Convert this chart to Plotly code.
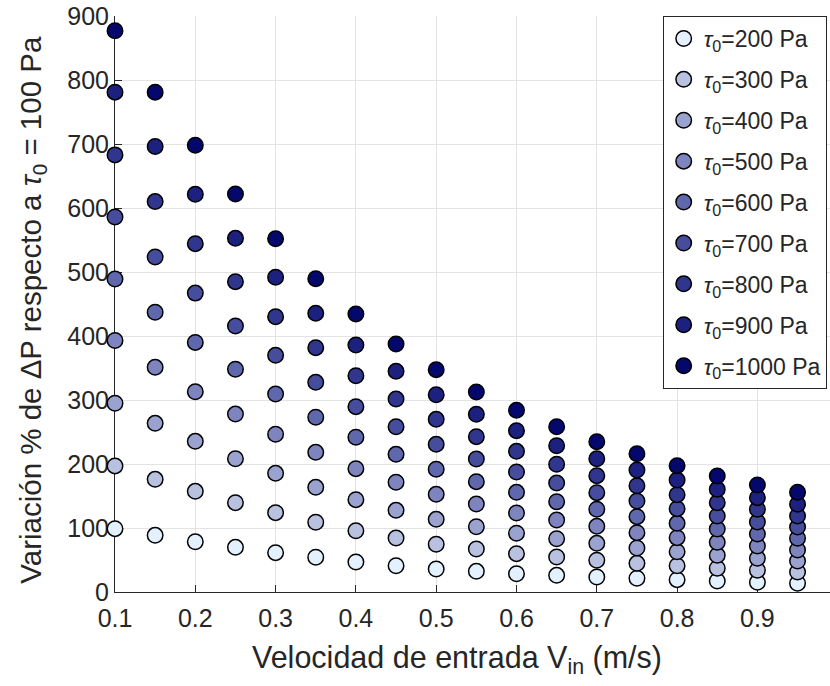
import plotly.graph_objects as go

# Inlet velocity (m/s)
velocidad = [0.10, 0.15, 0.20, 0.25, 0.30, 0.35, 0.40, 0.45, 0.50, 0.55,
             0.60, 0.65, 0.70, 0.75, 0.80, 0.85, 0.90, 0.95, 1.00]

# Yield stress levels (Pa)
tau0 = [200, 300, 400, 500, 600, 700, 800, 900, 1000]

# Percent change of pressure drop relative to tau0 = 100 Pa
var_200 = [99, 88.5, 78.6, 69.8, 61.5, 54.2, 46.9, 41.1, 35.9, 32.3,
           28.6, 26.0, 23.4, 21.4, 19.3, 17.2, 15.1, 13.6, 12.5]
var_300 = [197, 176, 157.3, 139.6, 124, 108.9, 95.8, 84.4, 74.5, 67.2,
           59.9, 54.7, 49.5, 44.8, 41.1, 37.0, 33.9, 31.3, 29]
var_400 = [295, 263.5, 235.4, 208.3, 185.4, 163.5, 144.3, 127.6, 113.5, 102,
           91.7, 83.3, 76, 68.8, 63, 57.3, 52.6, 48.4, 45.5]
var_500 = [393, 351, 313, 278, 246.4, 218.2, 192.7, 171.4, 152.6, 137.5,
           123.4, 112.5, 102.6, 92.7, 84.9, 77.6, 71.9, 65.6, 62]
var_600 = [489, 437, 390, 348, 309.4, 273, 241.7, 215.1, 191.7, 172.4,
           155.7, 141.1, 129.2, 117.7, 107.3, 98.4, 90.6, 83.9, 79]
var_700 = [586, 523.4, 467, 415.6, 369.8, 327.6, 289.6, 258.3, 230.7, 207.8,
           187.5, 170.3, 155.2, 142.2, 130.2, 118.8, 109.4, 101.6, 95.5]
var_800 = [683, 610, 544.3, 484.9, 430, 381.8, 338, 301.6, 269.8, 242.7,
           219.8, 199.5, 181.8, 166.1, 152.1, 139.6, 129.2, 118.8, 112]
var_900 = [781, 696, 621.4, 552.6, 491.7, 435.4, 386, 344.8, 308.3, 277.6,
           252.1, 228.6, 208.3, 190.6, 175, 160.4, 147.4, 137, 129]
var_1000 = [877, 781, 698, 621.9, 552, 489.6, 434.4, 387.5, 347.4, 312.5,
            283.9, 258.3, 234.9, 216.1, 197.4, 181.3, 167.2, 155.8, 146]

series = [var_200, var_300, var_400, var_500, var_600,
          var_700, var_800, var_900, var_1000]

colores = ["#E3F0FE", "#B8C1E0", "#9AA2CF", "#7D84BE", "#6068AD",
           "#464D9D", "#30368E", "#1C217F", "#04076B"]

x_ticks = [0.1, 0.2, 0.3, 0.4, 0.5, 0.6, 0.7, 0.8, 0.9]
y_ticks = [0, 100, 200, 300, 400, 500, 600, 700, 800, 900]

FONT = "Liberation Sans, Arial, sans-serif"
TXT = "#262626"

fig = go.Figure()
for tau, vals, col in zip(tau0, series, colores):
    marker = dict(size=15.5, color=col, line=dict(color="black", width=1.5))
    # points inside the visible velocity range
    fig.add_trace(go.Scatter(
        x=velocidad[:-1], y=vals[:-1], mode="markers", marker=marker,
        name=f"<i>τ</i><sub>0</sub>=%d Pa" % tau, cliponaxis=False,
        legendgroup=str(tau)))
    # last column sits at the right border of the axes
    fig.add_trace(go.Scatter(
        x=velocidad[-1:], y=vals[-1:], mode="markers", marker=marker,
        showlegend=False, cliponaxis=True, legendgroup=str(tau)))

axis_common = dict(
    showline=True, linecolor=TXT, linewidth=1, mirror=False,
    showgrid=True, gridcolor="#E3E3E3", gridwidth=1,
    ticks="inside", ticklen=7, tickcolor=TXT, tickwidth=1,
    tickfont=dict(family=FONT, size=25, color=TXT),
    zeroline=False, layer="below traces",
)

fig.update_layout(
    width=830, height=686,
    margin=dict(l=115, r=0, t=16, b=94, autoexpand=False),
    paper_bgcolor="white", plot_bgcolor="white",
    font=dict(family=FONT, color=TXT),
    xaxis=dict(range=[0.1, 0.1 + 715 / 803], tickvals=x_ticks,
               ticktext=["%.1f" % v for v in x_ticks],
               ticklabelstandoff=4, **axis_common),
    yaxis=dict(range=[0, 900], tickvals=y_ticks,
               ticktext=[str(v) for v in y_ticks], **axis_common),
    legend=dict(x=0.766, y=1.0, xanchor="left", yanchor="top",
                bgcolor="white", bordercolor=TXT, borderwidth=1,
                font=dict(family=FONT, size=23, color=TXT),
                tracegroupgap=8, itemsizing="trace"),
    showlegend=True,
    annotations=[
        dict(text="Velocidad de entrada V<sub>in</sub> (m/s)",
             xref="paper", yref="paper", x=(457 - 115) / 715, y=-0.08,
             xanchor="center", yanchor="top", showarrow=False,
             font=dict(family=FONT, size=30.5, color=TXT)),
        dict(text="Variación % de ΔP respecto a <i>τ</i><sub>0</sub> = 100 Pa",
             xref="paper", yref="paper", x=(33 - 115) / 715, y=0.49,
             xanchor="center", yanchor="middle", textangle=-90,
             showarrow=False,
             font=dict(family=FONT, size=29.5, color=TXT)),
    ],
)

fig.write_html("out.html")
